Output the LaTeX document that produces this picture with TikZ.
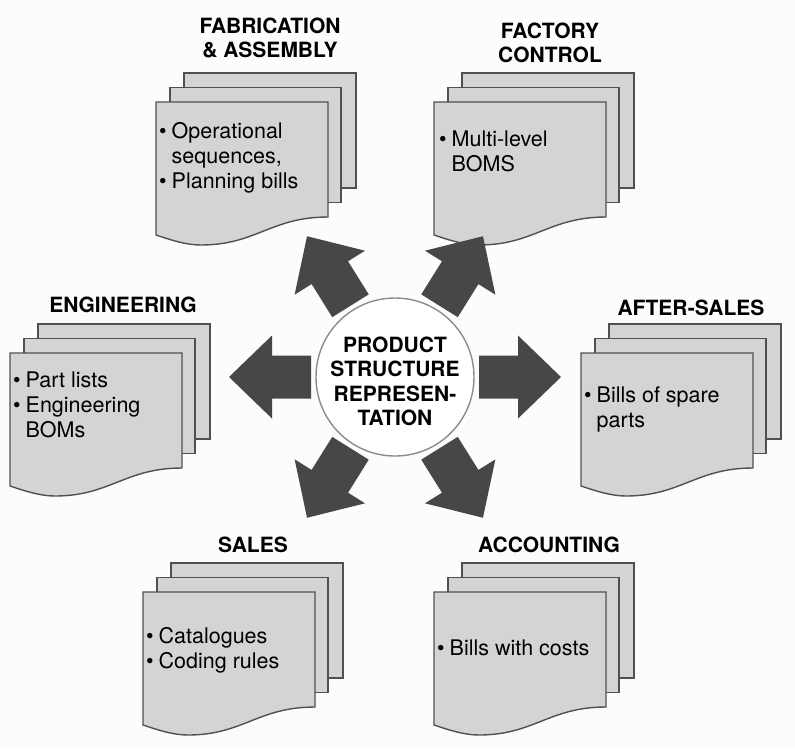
\documentclass[tikz,border=0pt]{standalone}
\usepackage{fontspec}
\setmainfont{TeX Gyre Heros}
\definecolor{sheetfill}{RGB}{212,212,212}
\definecolor{sheetedge}{RGB}{80,80,80}
\definecolor{arrowfill}{RGB}{71,71,71}
\definecolor{ringedge}{RGB}{140,140,140}
\definecolor{bgcol}{RGB}{252,252,252}
\tikzset{
  sheetbox/.style={fill=sheetfill, draw=sheetedge, line width=1.4pt, line join=miter},
  blockarrow/.style={fill=arrowfill, draw=none},
  titletext/.style={font=\fontsize{21}{24.5}\selectfont\bfseries, anchor=base, inner sep=0pt},
  bodytext/.style={font=\fontsize{21.5}{25}\selectfont, anchor=base west, inner sep=0pt},
  hub/.style={circle, draw=ringedge, fill=white, line width=1.4pt, minimum size=158pt, inner sep=0pt},
}
\newcommand\docstack[3]{%
  \begin{scope}[shift={(#1,#2)}]
    \draw[sheetbox] (28,-29) rectangle ++(172,115);
    \draw[sheetbox] (14,-14.5) rectangle ++(171,115);
    \draw[sheetbox] (0,0) -- (172,0) -- (172,115)
       .. controls (115,115) and (100,143) .. (45,143)
       .. controls (30,143) and (15,138) .. (0,133) -- cycle;
    \coordinate (#3) at (0,0);
  \end{scope}}
\newcommand\blockarr[1]{%
  \begin{scope}[shift={(hub.center)}, rotate=#1]
    \fill[blockarrow] (84,-21.5) -- (123,-21.5) -- (123,-41.5) -- (166,0)
       -- (123,41.5) -- (123,21.5) -- (84,21.5) -- cycle;
  \end{scope}}
\newcommand\bl[1]{\makebox[12.5pt][l]{\textbullet}#1}
\newcommand\ind[1]{\hspace*{12.5pt}#1}
\begin{document}
\begin{tikzpicture}[x=1pt, y=-1pt]
  \fill[bgcol] (0,0) rectangle (795,748);
  \useasboundingbox (0,0) rectangle (795,748);

  % document stacks
  \docstack{156}{102}{fab}
  \docstack{434}{102}{fac}
  \docstack{10}{353}{eng}
  \docstack{581}{353}{aft}
  \docstack{143}{592}{sal}
  \docstack{434}{592}{acc}

  % hub
  \node[hub] (hub) at (395,377) {};
  \node[titletext] (hubtext) at (395,352) {\begin{tabular}[t]{@{}c@{}}PRODUCT\\STRUCTURE\\REPRESEN-\\TATION\end{tabular}};

  % arrows
  \blockarr{0}
  \blockarr{180}
  \blockarr{58}
  \blockarr{122}
  \blockarr{-58}
  \blockarr{-122}

  % titles
  \node[titletext] (fabtitle) at (270,33) {\begin{tabular}[t]{@{}c@{}}FABRICATION\\\& ASSEMBLY\end{tabular}};
  \node[titletext] (factitle) at (550,38) {\begin{tabular}[t]{@{}c@{}}FACTORY\\CONTROL\end{tabular}};
  \node[titletext] (engtitle) at (123,312) {ENGINEERING};
  \node[titletext] (afttitle) at (691,315) {AFTER-SALES};
  \node[titletext] (saltitle) at (253,552) {SALES};
  \node[titletext] (acctitle) at (549,552) {ACCOUNTING};

  % body texts
  \node[bodytext] (fabbody) at (159,138) {\begin{tabular}[t]{@{}l@{}}\bl{Operational}\\\ind{sequences,}\\\bl{Planning bills}\end{tabular}};
  \node[bodytext] (facbody) at (439,146) {\begin{tabular}[t]{@{}l@{}}\bl{Multi-level}\\\ind{BOMS}\end{tabular}};
  \node[bodytext] (engbody) at (13,387) {\begin{tabular}[t]{@{}l@{}}\bl{Part lists}\\\bl{Engineering}\\\ind{BOMs}\end{tabular}};
  \node[bodytext] (aftbody) at (584,402) {\begin{tabular}[t]{@{}l@{}}\bl{Bills of spare}\\\ind{parts}\end{tabular}};
  \node[bodytext] (salbody) at (146,643) {\begin{tabular}[t]{@{}l@{}}\bl{Catalogues}\\\bl{Coding rules}\end{tabular}};
  \node[bodytext] (accbody) at (437,655) {\bl{Bills with costs}};
\end{tikzpicture}
\end{document}
